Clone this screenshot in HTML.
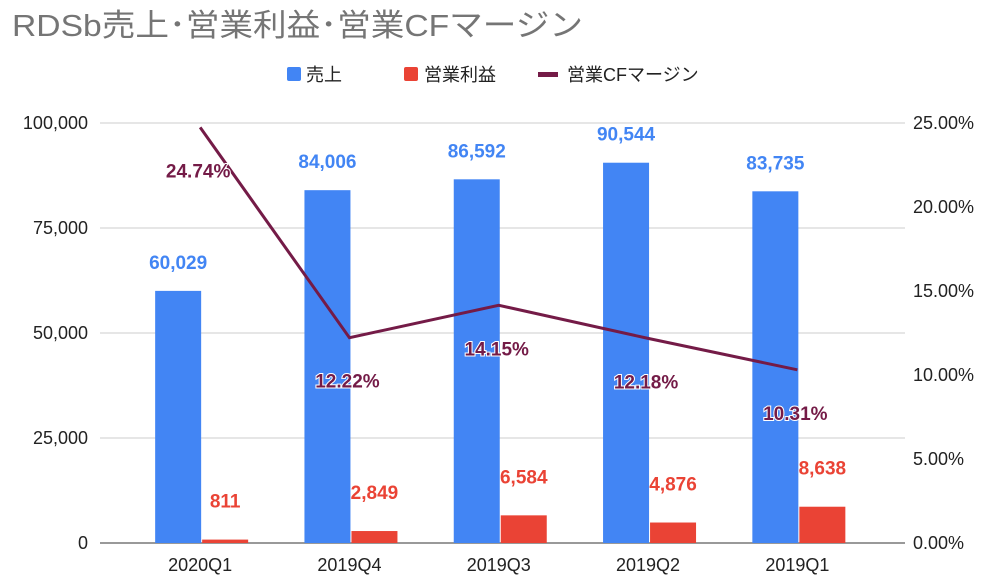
<!DOCTYPE html>
<html><head><meta charset="utf-8"><style>
body{margin:0;background:#fff;font-family:"Liberation Sans","Noto Sans CJK JP",sans-serif;}
</style></head><body>
<svg id="c" width="991" height="581" xmlns="http://www.w3.org/2000/svg" font-family="Liberation Sans, Noto Sans CJK JP, sans-serif">
<text x="12" y="36" font-size="31" fill="#757575" textLength="571" lengthAdjust="spacingAndGlyphs">RDSb売上･営業利益･営業CFマージン</text>
<g>
<rect x="287" y="67" width="14" height="14" rx="2" fill="#4285f4"/>
<text x="306" y="81" font-size="18" fill="#222">売上</text>
<rect x="404" y="67" width="14" height="14" rx="2" fill="#ea4335"/>
<text x="424" y="81" font-size="18" fill="#222">営業利益</text>
<rect x="538" y="72" width="20" height="5" fill="#741b47"/>
<text x="567" y="81" font-size="18" fill="#222">営業CFマージン</text>
</g>
<g id="grid"></g><g id="bars"></g><g id="line"></g><g id="labels"></g>
</svg>
<script>
const categories=["2020Q1","2019Q4","2019Q3","2019Q2","2019Q1"];
const sales=[60029,84006,86592,90544,83735];
const profit=[811,2849,6584,4876,8638];
const cfMargin=[24.74,12.22,14.15,12.18,10.31];
const leftTicks=[0,25000,50000,75000,100000];
const rightTicks=[0,5,10,15,20,25];
const NS="http://www.w3.org/2000/svg";
const x0=100,x1=905,yb=543,yt=123;
const cx0=125.5,step=149.3;
const yL=v=>yb-(v/100000)*(yb-yt);
const yR=v=>yb-(v/25)*(yb-yt);
const xc=i=>cx0+step*(i+0.5);
function mk(p,tag,attrs,txt){const e=document.createElementNS(NS,tag);for(const k in attrs)e.setAttribute(k,attrs[k]);if(txt!==undefined)e.textContent=txt;document.getElementById(p).appendChild(e);return e;}
const fmt=v=>v.toLocaleString("en-US");
leftTicks.forEach(t=>{
 const g=mk("grid","line",{x1:x0,x2:x1,y1:yL(t),y2:yL(t),stroke:t===0?"#333":"#ccc","stroke-width":1});
 
 
 const l=mk("grid","text",{x:x0-12,y:yL(t)+6,"text-anchor":"end","font-size":18,fill:"#222"},fmt(t));
 
 
});
rightTicks.forEach(t=>{
 const l=mk("grid","text",{x:x1+8,y:yR(t)+6,"font-size":18,fill:"#222"},t.toFixed(2)+"%");
 
 
});
categories.forEach((c,i)=>{
 const cx=xc(i);
 const l=mk("labels","text",{x:cx,y:571,"text-anchor":"middle","font-size":18,fill:"#222"},c);
 
 
 const b=mk("bars","rect",{x:cx-45,y:yL(sales[i]),width:46,height:yb-yL(sales[i]),fill:"#4285f4"});
 
 
 const r=mk("bars","rect",{x:cx+2,y:yL(profit[i]),width:46,height:yb-yL(profit[i]),fill:"#ea4335"});
 
 
 const sl=mk("labels","text",{x:cx-22,y:yL(sales[i])-22,"text-anchor":"middle","font-size":19,"font-weight":"bold",fill:"#4285f4"},fmt(sales[i]));
 
 
 const pl=mk("labels","text",{x:cx+25,y:yL(profit[i])-32,"text-anchor":"middle","font-size":19,"font-weight":"bold",fill:"#ea4335"},fmt(profit[i]));
 
 
 const ml=mk("labels","text",{x:cx-2,y:yR(cfMargin[i])+50,"text-anchor":"middle","font-size":19,"font-weight":"bold",fill:"#741b47",stroke:"#fff","stroke-width":2,"paint-order":"stroke"},cfMargin[i].toFixed(2)+"%");
 
 
});
const pts=cfMargin.map((v,i)=>xc(i)+","+yR(v)).join(" ");
const pl=mk("line","polyline",{points:pts,fill:"none",stroke:"#741b47","stroke-width":3});


</script>
</body></html>
